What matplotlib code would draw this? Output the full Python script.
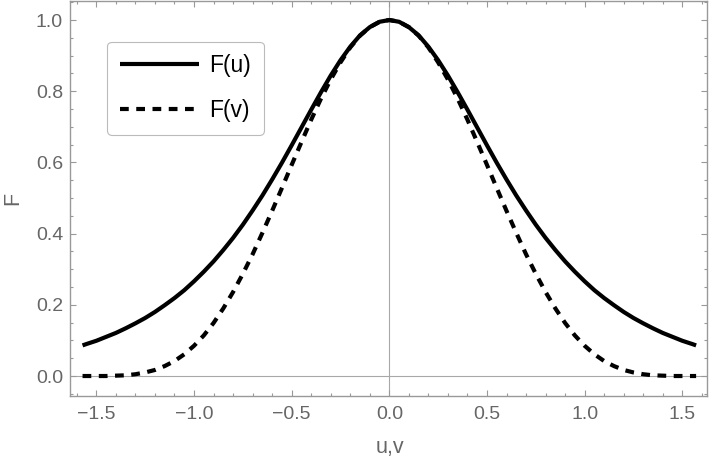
import matplotlib
matplotlib.use('Agg')
import matplotlib.pyplot as plt
from matplotlib.ticker import MultipleLocator

plt.rcParams['font.family'] = ['Liberation Sans', 'DejaVu Sans']
plt.rcParams['lines.scale_dashes'] = False

# values
x_vals = [-1.5708, -1.55, -1.50, -1.45, -1.40, -1.35, -1.30, -1.25, -1.20, -1.15,
          -1.10, -1.05, -1.00, -0.95, -0.90, -0.85, -0.80, -0.75, -0.70, -0.65,
          -0.60, -0.55, -0.50, -0.45, -0.40, -0.35, -0.30, -0.25, -0.20, -0.15,
          -0.10, -0.05, 0.00, 0.05, 0.10, 0.15, 0.20, 0.25, 0.30, 0.35,
          0.40, 0.45, 0.50, 0.55, 0.60, 0.65, 0.70, 0.75, 0.80, 0.85,
          0.90, 0.95, 1.00, 1.05, 1.10, 1.15, 1.20, 1.25, 1.30, 1.35,
          1.40, 1.45, 1.50, 1.55, 1.5708]

F_u = [0.086, 0.090, 0.099, 0.110, 0.121, 0.134, 0.148, 0.163, 0.180, 0.199,
       0.219, 0.241, 0.266, 0.293, 0.322, 0.354, 0.388, 0.425, 0.465, 0.507,
       0.552, 0.599, 0.648, 0.698, 0.748, 0.797, 0.844, 0.887, 0.925, 0.957,
       0.980, 0.995, 1.000, 0.995, 0.980, 0.957, 0.925, 0.887, 0.844, 0.797,
       0.748, 0.698, 0.648, 0.599, 0.552, 0.507, 0.465, 0.425, 0.388, 0.354,
       0.322, 0.293, 0.266, 0.241, 0.219, 0.199, 0.180, 0.163, 0.148, 0.134,
       0.121, 0.110, 0.099, 0.090, 0.086]

F_v = [0.000, 0.000, 0.000, 0.000, 0.001, 0.002, 0.005, 0.010, 0.017, 0.028,
       0.042, 0.061, 0.085, 0.114, 0.149, 0.190, 0.236, 0.287, 0.342, 0.402,
       0.464, 0.528, 0.593, 0.657, 0.720, 0.779, 0.833, 0.881, 0.923, 0.956,
       0.980, 0.995, 1.000, 0.995, 0.980, 0.956, 0.923, 0.881, 0.833, 0.779,
       0.720, 0.657, 0.593, 0.528, 0.464, 0.402, 0.342, 0.287, 0.236, 0.190,
       0.149, 0.114, 0.085, 0.061, 0.042, 0.028, 0.017, 0.010, 0.005, 0.002,
       0.001, 0.000, 0.000, 0.000, 0.000]

series_labels = ['F(u)', 'F(v)']
x_label = 'u,v'
y_label = 'F'

W, H = 710, 461
fig = plt.figure(figsize=(W / 100, H / 100), dpi=100)
ax = fig.add_axes([70 / W, 1 - 395.7 / H, 636.7 / W, 394.7 / H])

ax.axvline(0, color='#a8a8a8', lw=0.8, zorder=1)
ax.axhline(0, color='#a8a8a8', lw=0.8, zorder=1)

ax.plot(x_vals, F_u, color='black', lw=3.0, solid_capstyle='butt',
        label=series_labels[0], zorder=3)
ax.plot(x_vals, F_v, color='black', lw=3.0, ls=(0, (6.3, 5.4)),
        dash_capstyle='butt', label=series_labels[1], zorder=3)

ax.set_xlim(-1.635, 1.625)
ax.set_ylim(-0.0553, 1.0534)

ax.xaxis.set_major_locator(MultipleLocator(0.5))
ax.xaxis.set_minor_locator(MultipleLocator(0.1))
ax.yaxis.set_major_locator(MultipleLocator(0.2))
ax.yaxis.set_minor_locator(MultipleLocator(0.05))
ax.xaxis.set_major_formatter(matplotlib.ticker.FuncFormatter(
    lambda v, p: ('%.1f' % v).replace('-', '\u2212') if abs(v) > 1e-9 else '0.0'))
ax.yaxis.set_major_formatter(matplotlib.ticker.FuncFormatter(
    lambda v, p: '0.0' if abs(v) < 1e-9 else '%.1f' % v))

for s in ax.spines.values():
    s.set_color('#999999')
    s.set_linewidth(1.0)

ax.tick_params(which='both', direction='in', top=True, right=True, color='#999999',
               width=0.8, labelcolor='#666666', labelsize=14)
ax.tick_params(which='major', length=4.0)
ax.tick_params(which='minor', length=2.2)
ax.tick_params(axis='x', which='major', pad=7.5)
ax.tick_params(axis='y', which='major', pad=5)

fig.text(390 / W, 1 - 453 / H, x_label, ha='center', va='baseline',
         fontsize=15.5, color='#666666')
fig.text(13 / W, 1 - 198 / H, y_label, ha='center', va='center', rotation=90,
         fontsize=15.5, color='#666666')

leg = ax.legend(loc='upper left', bbox_to_anchor=(0.0586, 0.897), borderaxespad=0,
                fontsize=16.5, handlelength=3.45, handletextpad=0.45, borderpad=0.55,
                labelspacing=0.95, frameon=True, fancybox=True, framealpha=1)
fr = leg.get_frame()
fr.set_edgecolor('#bbbbbb')
fr.set_linewidth(0.8)

fig.savefig('out.png', dpi=100)
